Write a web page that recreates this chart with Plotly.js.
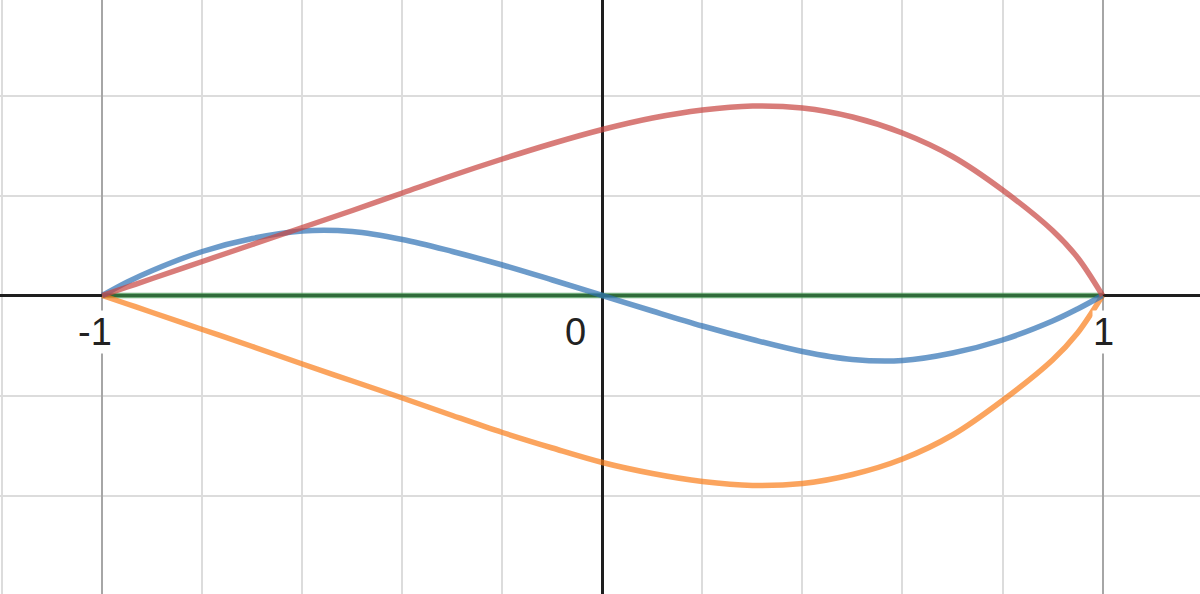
<!DOCTYPE html>
<html>
<head>
<meta charset="utf-8">
<script src="https://cdn.plot.ly/plotly-3.0.1.min.js"></script>
<style>html,body{margin:0;padding:0;background:#fff;}#chart{width:1200px;height:594px;}</style>
</head>
<body>
<div id="chart"></div>
<script>
// x positions where the curves were read
const xs = [-1, -0.95, -0.9, -0.8, -0.7, -0.6, -0.5, -0.4, -0.3, -0.2, -0.1, 0, 0.1, 0.2, 0.3, 0.4, 0.5, 0.6, 0.7, 0.8, 0.9, 0.95, 1];
const redY = [0, 0.017, 0.034, 0.068, 0.102, 0.136, 0.170, 0.205, 0.240, 0.273, 0.304, 0.332, 0.355, 0.371, 0.379, 0.375, 0.357, 0.325, 0.278, 0.211, 0.130, 0.076, 0];
const orangeY = [0, -0.017, -0.034, -0.068, -0.102, -0.137, -0.171, -0.205, -0.240, -0.274, -0.305, -0.334, -0.356, -0.372, -0.380, -0.376, -0.358, -0.327, -0.279, -0.210, -0.129, -0.075, 0];
const blueY = [0, 0.027, 0.050, 0.088, 0.114, 0.129, 0.128, 0.112, 0.088, 0.061, 0.031, 0, -0.031, -0.061, -0.088, -0.112, -0.128, -0.130, -0.115, -0.089, -0.051, -0.027, 0];
const greenY = [0, 0, 0, 0, 0, 0, 0, 0, 0, 0, 0, 0, 0, 0, 0, 0, 0, 0, 0, 0, 0, 0, 0];
const tickVals = [-1, 0, 1];
const tickLabels = ['-1', '0', '1'];

function curve(y, color) {
  return {x: xs, y: y, type: 'scatter', mode: 'lines', opacity: 0.7,
    line: {color: color, width: 5.5, shape: 'spline', smoothing: 1}, hoverinfo: 'skip', showlegend: false};
}
const data = [
  curve(greenY, '#388c46'),
  curve(orangeY, '#fa7e19'),
  curve(blueY, '#2d70b3'),
  curve(redY, '#c74440')
];

const labelShift = {'-1': -7, '0': -15, '1': 1};
const labelAnchor = {'-1': 'center', '0': 'right', '1': 'center'};
const annotations = tickVals.map((v, i) => ({
  x: v, y: 0, xref: 'x', yref: 'y', text: tickLabels[i], showarrow: false,
  xanchor: labelAnchor[tickLabels[i]], yanchor: 'middle',
  xshift: labelShift[tickLabels[i]], yshift: -36,
  font: {family: 'Liberation Sans, Arial, sans-serif', size: 38, color: '#222'},
  bgcolor: 'rgba(255,255,255,1)', borderpad: 0
}));

const layout = {
  width: 1200, height: 594,
  margin: {l: 0, r: 0, t: 0, b: 0},
  paper_bgcolor: '#fff', plot_bgcolor: '#fff',
  xaxis: {range: [-1.2046, 1.1949], dtick: 1, tick0: 0, showgrid: true, gridcolor: '#a6a6a6', gridwidth: 2,
    minor: {dtick: 0.2, tick0: 0, showgrid: true, gridcolor: '#dcdcdc', gridwidth: 2},
    zeroline: true, zerolinecolor: '#1e1e1e', zerolinewidth: 3, showticklabels: false, ticks: '', showline: false, fixedrange: true},
  yaxis: {range: [-0.597, 0.591], dtick: 1, tick0: 0, showgrid: true, gridcolor: '#a6a6a6', gridwidth: 2,
    minor: {dtick: 0.2, tick0: 0, showgrid: true, gridcolor: '#dcdcdc', gridwidth: 2},
    zeroline: true, zerolinecolor: '#1e1e1e', zerolinewidth: 3, showticklabels: false, ticks: '', showline: false, fixedrange: true},
  annotations: annotations,
  showlegend: false
};
Plotly.newPlot('chart', data, layout, {staticPlot: true, displayModeBar: false});
</script>
</body>
</html>
